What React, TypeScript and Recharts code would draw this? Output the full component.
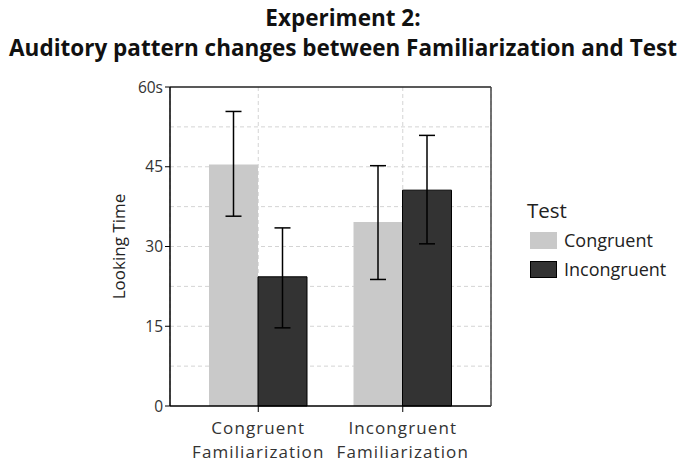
import React from 'react';
import {
  BarChart,
  Bar,
  XAxis,
  YAxis,
  CartesianGrid,
  ErrorBar,
  ReferenceLine
} from 'recharts';

const categories = ['Congruent Familiarization', 'Incongruent Familiarization'];
const congruentTest = [45.4, 34.6];
const incongruentTest = [24.3, 40.6];
const congruentErr = [[9.7, 10.0], [10.8, 10.6]];
const incongruentErr = [[9.6, 9.2], [10.1, 10.3]];
const yTicks = [0, 15, 30, 45, 60];
const gridValues = [7.5, 15, 22.5, 30, 37.5, 45, 52.5];
const legendItems = ['Congruent', 'Incongruent'];

const LIGHT = '#c9c9c9';
const DARK = '#333333';
const FONT = '"Open Sans", sans-serif';

const data = categories.map((name, i) => ({
  name,
  congruent: congruentTest[i],
  incongruent: incongruentTest[i],
  congruentErr: congruentErr[i],
  incongruentErr: incongruentErr[i]
}));

const CategoryTick = ({ x, y, payload }: any) => {
  const words = String(payload.value).split(' ');
  return (
    <text x={x} y={y} textAnchor="middle" fill="#333" fontSize={17} fontFamily={FONT} letterSpacing={1.1}>
      {words.map((w, i) => (
        <tspan key={i} x={x} dy={i === 0 ? 20 : 24}>{w}</tspan>
      ))}
    </text>
  );
};

// legend sits to the right of the plot, outside the svg
const LegendBox = () => (
  <div style={{ position: 'absolute', left: 0, top: 0, fontFamily: FONT, color: '#222' }}>
    <div style={{ position: 'absolute', left: 527, top: 198, fontSize: 20.5, lineHeight: '24px' }}>Test</div>
    {legendItems.map((label, i) => (
      <React.Fragment key={label}>
        <div style={{ position: 'absolute', left: 530, top: 232 + i * 29, width: 27, height: 17, boxSizing: 'border-box', background: i === 0 ? LIGHT : DARK, border: i === 1 ? '1px solid #000' : 'none' }} />
        <div style={{ position: 'absolute', left: 564, top: 230 + i * 29, fontSize: 18, lineHeight: '20px', whiteSpace: 'nowrap' }}>{label}</div>
      </React.Fragment>
    ))}
  </div>
);

export default function App() {
  return (
    <div style={{ position: 'absolute', left: 0, top: 0, width: 686, height: 462, background: '#fff' }}>
      <div style={{ position: 'absolute', left: 0, top: 3, width: 686, textAlign: 'center', fontFamily: FONT, fontWeight: 700, fontSize: 22.5, lineHeight: '30px', color: '#111' }}>
        <div>Experiment 2:</div>
        <div>Auditory pattern changes between Familiarization and Test</div>
      </div>
      <BarChart
        width={686}
        height={462}
        data={data}
        margin={{ top: 87, right: 194, bottom: 6, left: 110 }}
        barCategoryGap={23}
        barGap={0}
      >
        <CartesianGrid
          stroke="#d4d4d4"
          strokeDasharray="4 3"
          horizontalValues={gridValues}
        />
        <XAxis
          dataKey="name"
          tick={<CategoryTick />}
          tickLine={{ stroke: '#000' }}
          tickSize={6}
          axisLine={{ stroke: '#000', strokeWidth: 1.5 }}
          padding={{ left: 16, right: 16 }}
          height={50}
          interval={0}
        />
        <YAxis
          domain={[0, 60]}
          ticks={yTicks}
          tickFormatter={(v: number) => (v === 60 ? '60s' : String(v))}
          tick={{ fill: '#333', fontSize: 15.5, fontFamily: FONT }}
          tickLine={{ stroke: '#000' }}
          tickSize={5}
          axisLine={{ stroke: '#000', strokeWidth: 1.5 }}
          width={60}
          label={{ value: 'Looking Time', angle: -90, position: 'insideLeft', offset: 0, dx: 9, style: { fill: '#222', fontSize: 17, fontFamily: FONT, textAnchor: 'middle' } }}
        />
        <YAxis yAxisId="frame" orientation="right" domain={[0, 60]} tick={false} tickLine={false} axisLine={{ stroke: '#444', strokeWidth: 1.5 }} width={1} />
        <ReferenceLine y={60} stroke="#222" strokeWidth={1.5} />
        <Bar dataKey="congruent" name="Congruent" fill={LIGHT} isAnimationActive={false}>
          <ErrorBar dataKey="congruentErr" width={8} stroke="#000" strokeWidth={1.5} />
        </Bar>
        <Bar dataKey="incongruent" name="Incongruent" fill={DARK} stroke="#000" strokeWidth={1} isAnimationActive={false}>
          <ErrorBar dataKey="incongruentErr" width={8} stroke="#000" strokeWidth={1.5} />
        </Bar>
      </BarChart>
      <LegendBox />
    </div>
  );
}
